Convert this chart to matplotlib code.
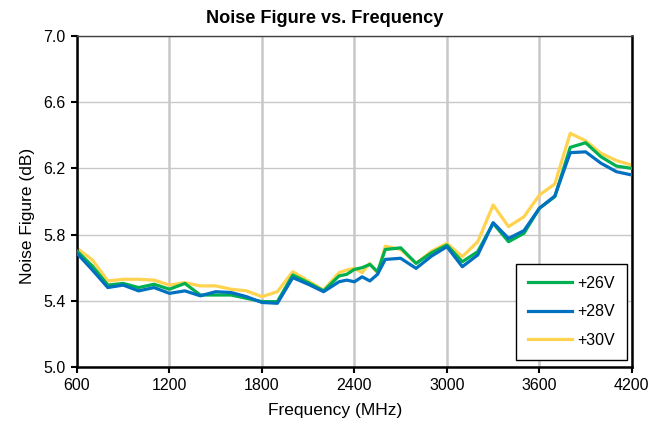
import numpy as np
import matplotlib
matplotlib.use('Agg')
import matplotlib.pyplot as plt

plt.rcParams['font.family'] = ['Liberation Sans', 'DejaVu Sans']

freq = [600, 700, 800, 900, 1000, 1100, 1200, 1300, 1400, 1500, 1600, 1700, 1800, 1900,
        2000, 2100, 2200, 2300, 2350, 2400, 2450, 2500, 2550, 2600, 2700, 2800, 2900,
        3000, 3100, 3200, 3300, 3400, 3500, 3600, 3700, 3800, 3900, 4000, 4100, 4200]

nf_26v = [5.70, 5.61, 5.495, 5.505, 5.48, 5.50, 5.47, 5.505, 5.435, 5.435, 5.435, 5.415, 5.395, 5.395,
          5.556, 5.51, 5.46, 5.55, 5.56, 5.59, 5.60, 5.62, 5.576, 5.71, 5.72, 5.626, 5.69,
          5.737, 5.636, 5.697, 5.868, 5.757, 5.808, 5.959, 6.029, 6.327, 6.355, 6.27, 6.214, 6.20]

nf_28v = [5.687, 5.586, 5.48, 5.495, 5.46, 5.48, 5.445, 5.46, 5.43, 5.455, 5.45, 5.425, 5.39, 5.385,
          5.54, 5.50, 5.455, 5.515, 5.525, 5.515, 5.545, 5.52, 5.56, 5.65, 5.657, 5.596, 5.67,
          5.727, 5.606, 5.677, 5.872, 5.777, 5.824, 5.959, 6.033, 6.295, 6.30, 6.231, 6.18, 6.16]

nf_30v = [5.717, 5.647, 5.52, 5.53, 5.53, 5.525, 5.495, 5.51, 5.49, 5.49, 5.47, 5.46, 5.425, 5.455,
          5.576, 5.52, 5.465, 5.57, 5.586, 5.596, 5.57, 5.626, 5.566, 5.73, 5.71, 5.626, 5.70,
          5.747, 5.667, 5.757, 5.979, 5.848, 5.908, 6.039, 6.106, 6.412, 6.367, 6.291, 6.247, 6.22]

fig = plt.figure(figsize=(6.49, 4.30), dpi=100)
ax = fig.add_axes([0.1186, 0.1465, 0.855, 0.7698])

ax.plot(freq, nf_26v, color='#00B050', lw=2.3, label='+26V', zorder=3)
ax.plot(freq, nf_28v, color='#0070C0', lw=2.3, label='+28V', zorder=4)
ax.plot(freq, nf_30v, color='#FFD34F', lw=2.3, label='+30V', zorder=2)

ax.set_xlim(600, 4200)
ax.set_ylim(5.0, 7.0)
ax.set_xticks(np.arange(600, 4201, 600))
ax.set_yticks(np.arange(5.0, 7.01, 0.4))
ax.set_yticklabels([f'{v:.1f}' for v in np.arange(5.0, 7.01, 0.4)])

ax.grid(axis='x', color='#C8C8C8', lw=1.8)
ax.grid(axis='y', color='#C8C8C8', lw=1.0)
ax.set_axisbelow(True)

for side in ['left', 'bottom', 'right']:
    ax.spines[side].set_color('black')
    ax.spines[side].set_linewidth(1.8)
ax.spines['top'].set_color('#404040')
ax.spines['top'].set_linewidth(1.0)

ax.tick_params(axis='both', labelsize=11.5, length=4, width=1.5, color='black', pad=4)

# title is centred on the figure, not on the axes
fig.text(0.5, 0.938, 'Noise Figure vs. Frequency', fontsize=13.1, fontweight='bold',
         ha='center', va='bottom')
ax.set_xlabel('Frequency (MHz)', fontsize=12.5)
ax.xaxis.set_label_coords(0.466, -0.11)
ax.set_ylabel('Noise Figure (dB)', fontsize=12.5)
ax.yaxis.set_label_coords(-0.076, 0.456)

leg = ax.legend(loc='lower right', fontsize=11.5, frameon=True, fancybox=False,
                edgecolor='black', framealpha=1, handlelength=2.8, handletextpad=0.3,
                labelspacing=0.85, borderpad=0.75, bbox_to_anchor=(0.991, 0.021),
                borderaxespad=0)
leg.get_frame().set_linewidth(1.0)

fig.savefig('out.png', dpi=100)
